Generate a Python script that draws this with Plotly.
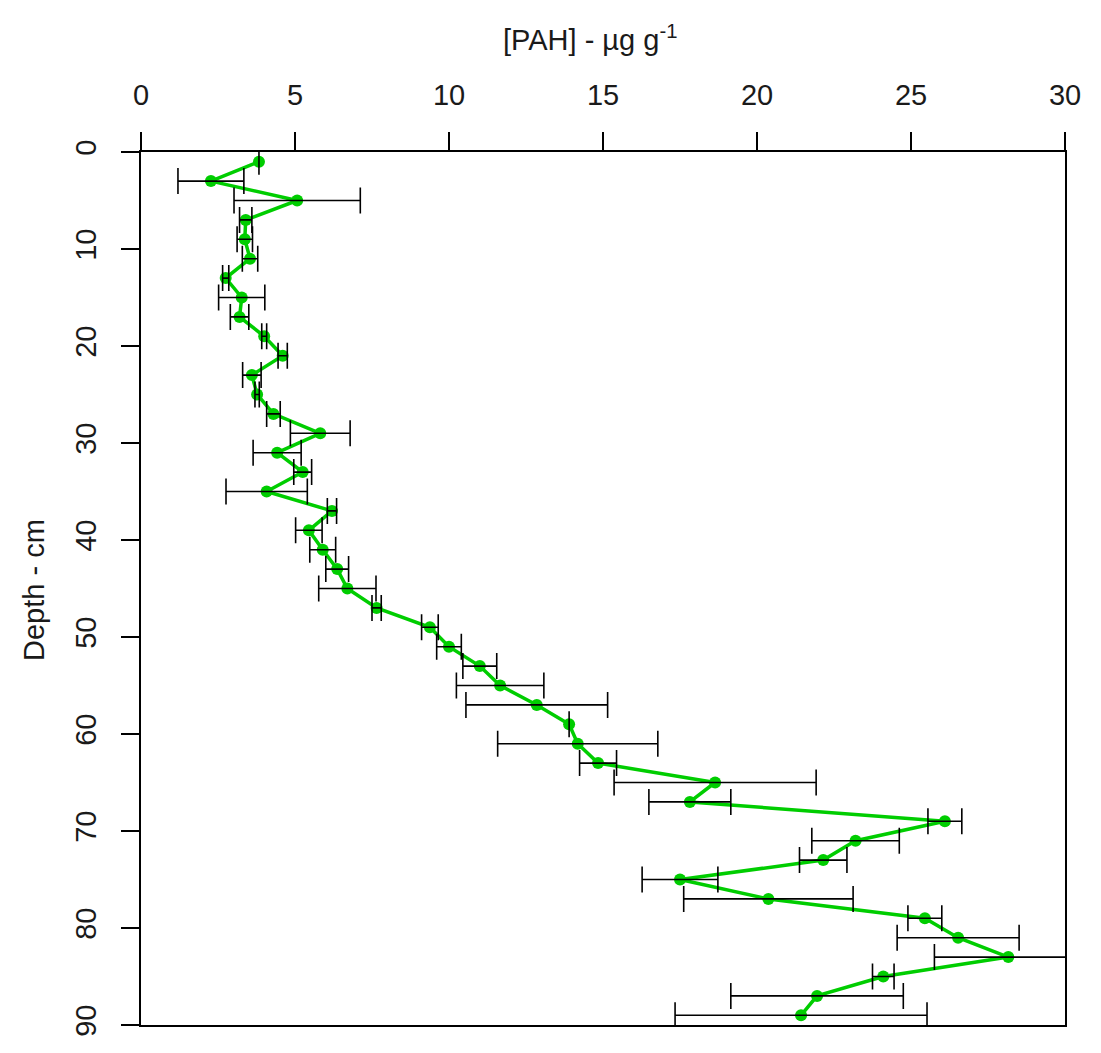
import plotly.graph_objects as go

depth = [1, 3, 5, 7, 9, 11, 13, 15, 17, 19, 21, 23, 25, 27, 29, 31, 33, 35, 37, 39, 41, 43, 45,
         47, 49, 51, 53, 55, 57, 59, 61, 63, 65, 67, 69, 71, 73, 75, 77, 79, 81, 83, 85, 87, 89]
pah = [3.83, 2.27, 5.07, 3.4, 3.37, 3.54, 2.75, 3.27, 3.2, 4.0, 4.6, 3.6, 3.77, 4.3, 5.82, 4.42,
       5.25, 4.08, 6.2, 5.45, 5.9, 6.37, 6.7, 7.65, 9.38, 10.0, 11.0, 11.66, 12.85, 13.9, 14.18,
       14.84, 18.64, 17.82, 26.1, 23.2, 22.15, 17.5, 20.37, 25.45, 26.53, 28.16, 24.1, 21.95, 21.43]
sd = [0.0, 1.07, 2.05, 0.2, 0.25, 0.25, 0.1, 0.75, 0.3, 0.08, 0.15, 0.3, 0.07, 0.22, 0.97, 0.78,
      0.29, 1.32, 0.15, 0.43, 0.42, 0.37, 0.93, 0.15, 0.27, 0.4, 0.55, 1.42, 2.3, 0.0, 2.6,
      0.6, 3.28, 1.33, 0.55, 1.42, 0.77, 1.23, 2.75, 0.55, 1.98, 2.4, 0.35, 2.8, 4.09]

x_ticks = [0, 5, 10, 15, 20, 25, 30]
y_ticks = [0, 10, 20, 30, 40, 50, 60, 70, 80, 90]

GREEN = "#00CD00"
FONT = "Liberation Sans, Arial, sans-serif"
TXT = "#1a1a1a"

fig = go.Figure()
fig.add_trace(go.Scatter(
    x=pah, y=depth, mode="lines+markers",
    line=dict(color=GREEN, width=3.5),
    marker=dict(color=GREEN, size=12, symbol="circle"),
    showlegend=False,
))
fig.add_trace(go.Scatter(
    x=pah, y=depth, mode="markers",
    marker=dict(color="rgba(0,0,0,0)", size=1),
    error_x=dict(type="data", array=sd, symmetric=True, color="black", thickness=1.6, width=13),
    showlegend=False,
))

fig.update_layout(
    width=1085, height=1037,
    margin=dict(l=133, r=28, t=144, b=20, pad=0),
    paper_bgcolor="white", plot_bgcolor="white",
    font=dict(family=FONT, size=29, color=TXT),
    xaxis=dict(
        side="top", range=[0, 30], tickvals=x_ticks, ticktext=[str(v) for v in x_ticks],
        showgrid=False, zeroline=False, showline=True, mirror=True, linecolor="black", linewidth=1.5,
        ticks="outside", ticklen=18, tickwidth=1.5, tickcolor="black", ticklabelstandoff=16,
        tickfont=dict(size=29, color=TXT), automargin=False,
    ),
    yaxis=dict(
        range=[90, 0], tickvals=y_ticks, ticktext=[str(v) for v in y_ticks], tickangle=-90,
        showgrid=False, zeroline=False, showline=True, mirror=True, linecolor="black", linewidth=1.5,
        ticks="outside", ticklen=18, tickwidth=1.5, tickcolor="black", ticklabelstandoff=14,
        tickfont=dict(size=29, color=TXT), automargin=False,
    ),
    annotations=[
        dict(text="[PAH] - µg g<sup>-1</sup>", xref="paper", yref="paper",
             x=(590 - 141) / 924, y=1 + (152 - 38) / 873, xanchor="center", yanchor="middle",
             showarrow=False, font=dict(size=29, color=TXT)),
        dict(text="Depth - cm", xref="paper", yref="paper", textangle=-90,
             x=(34 - 141) / 924, y=(1025 - 590) / 873, xanchor="center", yanchor="middle",
             showarrow=False, font=dict(size=29, color=TXT)),
    ],
)

fig.write_html("out.html")
